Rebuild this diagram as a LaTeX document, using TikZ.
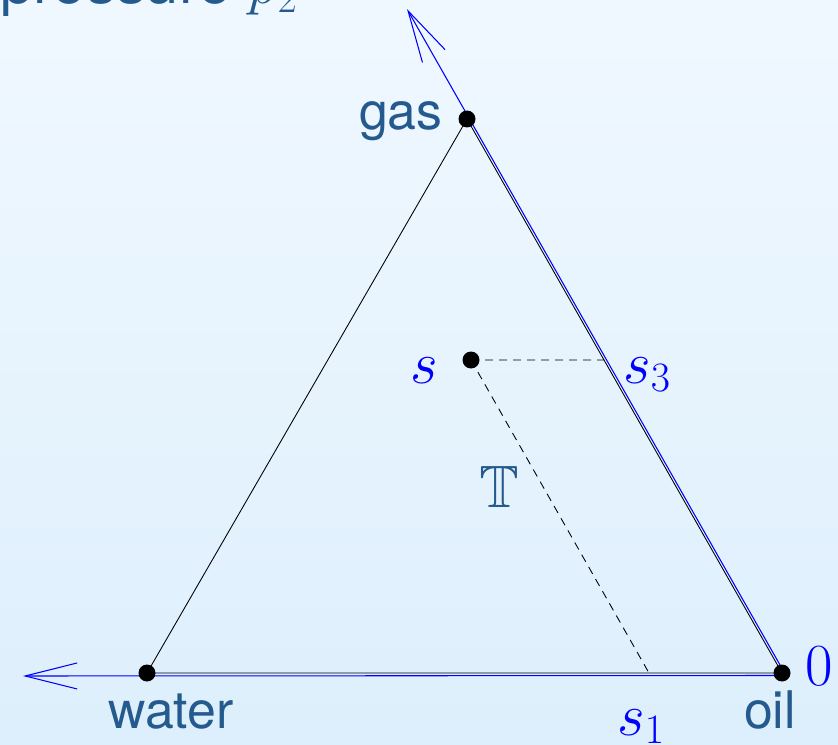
\documentclass[tikz,border=0pt]{standalone}
\usepackage{fix-cm}
\usepackage{amssymb}
\usepackage{fontspec}
\setsansfont{TeX Gyre Heros}
\usetikzlibrary{arrows.meta, positioning, calc}
\definecolor{labelblue}{HTML}{245A8E}
\definecolor{bgtop}{HTML}{F0F8FF}
\definecolor{bgbottom}{HTML}{DDEFFC}

\begin{document}
\begin{tikzpicture}[
    dot/.style={circle, fill=black, inner sep=0pt, minimum size=0.34cm},
    lbl/.style={inner sep=0pt, text=labelblue, font=\fontsize{29.5}{34}\selectfont\sffamily},
    mlbl/.style={inner sep=0pt, text=blue, font=\fontsize{34}{40}\selectfont},
    edge/.style={black, line width=0.5pt},
    axis/.style={blue, line width=0.6pt, -{Straight Barb[length=1.04cm, width=0.52cm]}},
    proj/.style={black, line width=0.5pt, dash pattern=on 0.16cm off 0.12cm}]

  % background
  \shade[top color=bgtop, bottom color=bgbottom] (0,0) rectangle (16.76,14.88);
  \useasboundingbox (0,0) rectangle (16.76,14.88);

  % corners of the triangle and the point s
  \coordinate (cw) at (2.94,1.42);
  \coordinate (co) at (15.64,1.42);
  \coordinate (cg) at (9.34,12.5);
  \coordinate (cs) at (9.42,7.68);
  \coordinate (sh) at ($(cs)+(1,0)$);
  \coordinate (sd) at ($(cs)+(co)-(cg)$);
  \coordinate (s3) at (intersection of cs--sh and co--cg);
  \coordinate (s1) at (intersection of cs--sd and cw--co);

  % axes
  \coordinate (xtip) at (0.46,1.36);
  \coordinate (ytip) at (8.14,14.7);
  \draw[axis] ([yshift=-0.05cm]co) -- (xtip);
  \draw[axis] ([shift={(0.04cm,0.02cm)}]co) -- (ytip);

  % triangle
  \draw[edge] (cw) -- (co) -- (cg) -- cycle;

  % projections
  \draw[proj] (cs) -- (s3);
  \draw[proj] (cs) -- (s1);

  % points
  \node[dot] (water) at (cw) {};
  \node[dot] (oil) at (co) {};
  \node[dot] (gas) at (cg) {};
  \node[dot] (s) at (cs) {};

  % labels
  \node[lbl, anchor=base east] (gaslbl) at (8.86,12.28) {gas};
  \node[lbl, anchor=base] (waterlbl) at (3.42,0.32) {water};
  \node[lbl, anchor=base] (oillbl) at (15.4,0.32) {oil};
  \node[lbl, font=\fontsize{34}{40}\selectfont\sffamily, anchor=base west] (plbl) at (0,14.8) {pressure $p_2$};
  \node[mlbl, anchor=base west] (zero) at (16.1,1.18) {$0$};
  \node[mlbl, anchor=base east] (slbl) at (8.76,7.22) {$s$};
  \node[mlbl, anchor=base west] (s3lbl) at (12.46,7.22) {$s_3$};
  \node[mlbl, anchor=base west] (s1lbl) at (12.34,0.18) {$s_1$};
  \node[mlbl, text=labelblue, anchor=base] (tlbl) at (9.98,4.74) {$\mathbb{T}$};
\end{tikzpicture}
\end{document}
